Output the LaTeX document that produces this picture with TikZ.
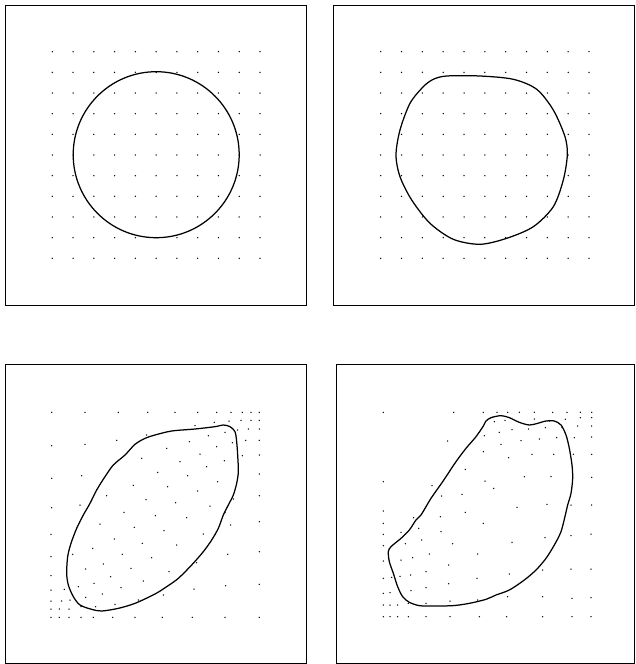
\documentclass[tikz,border=0pt]{standalone}
\begin{document}
\begin{tikzpicture}[x=1pt,y=-1pt,
  box/.style={draw=black, line width=0.8pt},
  blob/.style={draw=black, line width=1.25pt, line join=round},
  gdot/.style={fill=black}]
\useasboundingbox (0,0) rectangle (635,664);
% frames
\draw[box] (5,5) rectangle (306.5,305);
\draw[box] (333.5,5) rectangle (634,305);
\draw[box] (5,364.5) rectangle (306,663);
\draw[box] (336.5,364.5) rectangle (634,663);
% panel 1 grid and circle
\foreach \i in {0,...,10}{\foreach \j in {0,...,10}{
  \fill[gdot] ({52.3+20.77*\i},{51.7+20.66*\j}) circle (0.75pt);}}
\draw[blob] (156.2,154.7) circle (83pt);
% panel 2 grid and curve
\foreach \i in {0,...,10}{\foreach \j in {0,...,10}{
  \fill[gdot] ({380.7+20.83*\i},{51.7+20.66*\j}) circle (0.75pt);}}
\draw[blob] plot[smooth cycle] coordinates {
 (446.7,76) (480,76) (513.3,79.3) (536.7,89.3) (553.3,110) (565,136.7)
 (567.3,155) (563.3,180) (553.3,206.7) (533.3,226.7) (506.7,238.3)
 (480,244.3) (453.3,239.3) (430,223.3) (411.7,200) (400,176.7) (396,155)
 (400,130) (410,103.3) (423.3,86.7) (433.3,79.3)};
% panel 3 grid
\foreach \x/\y in {155/187, 255/187, 355/187, 443/187, 525/187, 593/187, 650/187, 693/187, 727/187, 753/187, 778/187,
155/287, 255/283, 350/271, 440/255, 585/227, 643/217, 687/213, 723/211, 753/211, 778/211,
625/257, 675/247, 713/240, 745/237, 778/237,
425/325, 500/295, 568/275, 650/290, 697/278, 737/271, 778/271,
155/385, 245/377, 600/312, 727/317, 778/315, 540/335, 673/332, 620/350,
400/406, 473/367, 563/377, 778/372, 503/410, 653/395, 593/423,
320/437, 438/449, 778/437, 527/458, 700/447, 630/468, 675/488,
155/473, 240/465, 372/487,
153/553, 153/620, 153/677, 153/720, 153/753, 153/777, 153/802, 300/522, 403/532, 343/567, 427/580, 278/595, 218/613, 367/613, 455/623, 310/642, 257/657, 393/655, 332/680, 430/693, 235/710, 282/700, 363/713, 193/718, 307/732, 257/742, 185/753, 210/750, 345/763, 287/770, 415/750, 178/777, 207/777, 243/770, 178/802, 207/802, 243/802, 280/802, 338/802, 405/802,
466/497, 560/503, 492/542, 610/552, 692/525, 530/585, 683/613, 778/605, 590/638, 507/665, 677/707, 582/717, 778/703, 490/735, 487/802, 577/802, 675/802, 778/802, 778/515}{
  \fill[gdot] ({\x/3},{350+\y/3}) circle (0.75pt);}
\begin{scope}[shift={(0,350)}, scale=1/3]
\draw[blob] plot[smooth cycle] coordinates {
 (465,255) (515,243) (585,237) (645,230) (670,225) (690,230) (705,245) (710,275)
 (713,315) (715,365) (710,400) (700,435) (685,465) (670,495) (655,535) (635,570)
 (610,605) (575,645) (535,685) (500,710) (465,732) (405,760) (355,775) (305,783)
 (275,778) (240,765) (220,740) (205,705) (200,670) (203,620) (213,580) (230,535)
 (250,495) (270,460) (290,420) (315,380) (340,345) (375,315) (405,283) (435,265)};
\end{scope}
% panel 4 grid
\foreach \x/\y in {190/187, 401/187, 490/187, 531/187, 563/187, 598/187, 643/187, 698/187, 741/187, 781/187, 815/187,
523/215, 555/211, 643/207, 688/213, 736/208, 781/203, 815/203,
576/239, 626/237, 676/233, 726/233, 773/228, 815/228, 538/247,
603/272, 658/267, 710/263, 763/263, 815/261, 543/283,
566/323, 636/313, 701/313, 760/313, 815/313,
613/380, 693/380, 815/382, 521/415,
591/472, 681/463, 753/465, 815/465,
383/273, 493/257, 490/305, 436/358, 495/393, 190/395, 336/407, 365/438, 426/433, 190/483, 436/487, 490/520,
190/520, 190/553, 190/587, 190/633, 190/685, 190/730, 190/765, 190/800,
281/503, 361/500, 296/535, 363/545, 243/547, 256/581, 305/570, 398/581, 243/630, 278/623, 328/612, 473/612, 386/645, 215/682, 240/679, 272/675, 318/665, 471/685, 210/728, 273/722, 318/713, 386/701, 210/765, 233/765, 265/760, 318/760, 390/753, 473/750,
210/800, 233/800, 265/800, 318/800, 390/800, 478/800,
576/577, 675/563, 753/557, 813/552, 568/672, 668/660, 753/657, 813/657, 563/740, 668/740, 756/745, 813/743, 560/800, 668/800, 756/800, 813/800}{
  \fill[gdot] ({320+\x/3},{350+\y/3}) circle (0.75pt);}
\begin{scope}[shift={(320,350)}, scale=1/3]
\draw[blob] plot[smooth cycle] coordinates {
 (498,213) (513,203) (543,197) (568,203) (598,217) (628,225) (653,220) (678,213)
 (703,213) (723,225) (738,255) (748,295) (756,345) (758,385) (753,430) (743,465)
 (736,495) (723,545) (703,585) (678,625) (648,660) (613,690) (568,720) (528,735)
 (498,748) (448,760) (398,767) (328,768) (298,767) (268,757) (248,740) (233,710)
 (220,670) (208,635) (205,605) (213,590) (243,565) (268,540) (288,510) (303,495)
 (333,445) (368,395) (408,335) (438,295) (468,260) (490,228)};
\end{scope}
\end{tikzpicture}
\end{document}
